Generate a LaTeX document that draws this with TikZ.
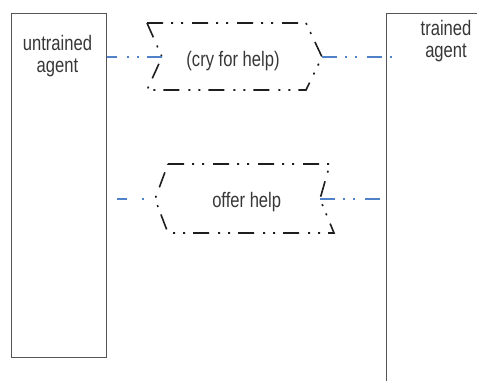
\documentclass[tikz,border=0pt]{standalone}
\usepackage{fontspec}
\setmainfont[FakeStretch=0.79]{Liberation Sans}
\definecolor{boxgray}{RGB}{85,85,85}
\definecolor{txtgray}{RGB}{55,55,55}
\definecolor{linkblue}{RGB}{80,130,200}
\definecolor{inkblack}{RGB}{30,30,30}
\begin{document}
\begin{tikzpicture}[x=1bp,y=-1bp,
  agentbox/.style={draw=boxgray, line width=1.3bp, inner sep=0pt},
  lbl/.style={font=\fontsize{21bp}{22bp}\selectfont, text=txtgray, inner sep=0pt, align=center},
  outline/.style={draw=inkblack, line width=1.6bp, dash pattern=on 16bp off 8bp on 2bp off 8bp on 2bp off 9bp},
  conn/.style={draw=linkblue, line width=1.8bp, dash pattern=on 15bp off 8bp on 2bp off 8bp on 2bp off 10bp}]
\useasboundingbox (0,0) rectangle (477,380);

% agent boxes
\node[agentbox, minimum width=95bp, minimum height=344bp, anchor=north west] (ua) at (11,12.7) {};
\node[agentbox, minimum width=120bp, minimum height=400bp, anchor=north west] (ta) at (386,12.7) {};
\node[lbl, anchor=base] (ual) at (57.5,72) {untrained\\agent};
\node[lbl, anchor=base] (tal) at (446,57) {trained\\agent};

% cry for help (points right)
\coordinate (cryL) at (162,57);
\coordinate (cryR) at (322,57);
\draw[outline] (147,23) -- (306,23) -- (cryR) -- (306,90) -- (147,90) -- (cryL) -- cycle;
\node[lbl, anchor=base] (cry) at (233,66.7) {(cry for help)};

% offer help (points left)
\coordinate (offL) at (155,199);
\coordinate (offR) at (320,199);
\draw[outline] (168,164) -- (330,164) -- (offR) -- (334,233) -- (168,233) -- (offL) -- cycle;
\node[lbl, anchor=base] (off) at (246.7,207.3) {offer help};

% connectors
\draw[conn] (cryL) -- (cryL -| ua.east);
\coordinate (taIn) at ([xshift=6bp]cryR -| ta.west);
\draw[conn] (cryR) -- (taIn);
\coordinate (lfree) at (117,199);
\draw[conn, dash pattern=on 10bp off 15bp on 2bp off 12bp] (lfree) -- (offL);
\coordinate (rfree) at (380,199);
\draw[conn] (offR) -- (rfree);
\end{tikzpicture}
\end{document}
